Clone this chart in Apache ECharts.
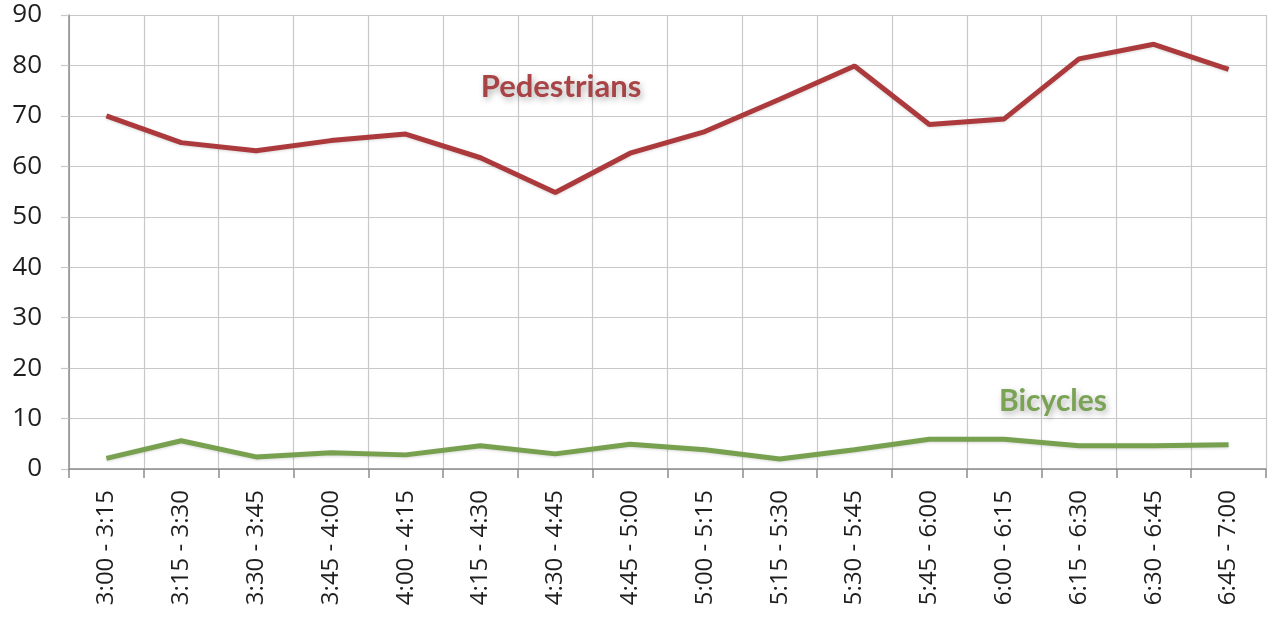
<!DOCTYPE html>
<html>
<head>
<meta charset="utf-8">
<script src="https://cdn.jsdelivr.net/npm/echarts@6/dist/echarts.min.js"></script>
<style>html,body{margin:0;padding:0;background:#fff;}#chart{width:1268px;height:619px;}</style>
</head>
<body>
<div id="chart"></div>
<script>
const categories = ['3:00 - 3:15','3:15 - 3:30','3:30 - 3:45','3:45 - 4:00','4:00 - 4:15','4:15 - 4:30','4:30 - 4:45','4:45 - 5:00','5:00 - 5:15','5:15 - 5:30','5:30 - 5:45','5:45 - 6:00','6:00 - 6:15','6:15 - 6:30','6:30 - 6:45','6:45 - 7:00'];
const pedestrians = [70.0, 64.7, 63.1, 65.1, 66.4, 61.7, 54.8, 62.6, 66.9, 73.3, 79.9, 68.3, 69.4, 81.3, 84.2, 79.2];
const bicycles = [2.1, 5.6, 2.4, 3.2, 2.8, 4.6, 3.0, 4.9, 3.8, 2.0, 3.8, 5.9, 5.9, 4.6, 4.6, 4.8];
const yTicks = {min: 0, max: 90, interval: 10};
const seriesNames = ['Pedestrians', 'Bicycles'];

const chart = echarts.init(document.getElementById('chart'));
const AXFONT = 'Open Sans';
const LBFONT = 'Lato';
chart.setOption({
  animation: false,
  backgroundColor: '#ffffff',
  grid: {left: 69, right: 2, top: 15, bottom: 150, containLabel: false},
  xAxis: {
    type: 'category',
    data: categories,
    boundaryGap: true,
    axisLine: {show: true, lineStyle: {color: '#8c8c8c', width: 1.5}},
    axisTick: {show: true, interval: 0, length: 9, lineStyle: {color: '#8c8c8c', width: 1.5}},
    splitLine: {show: true, interval: 0, lineStyle: {color: '#c8c8c8', width: 1.2}},
    axisLabel: {rotate: 90, interval: 0, margin: 21, fontFamily: AXFONT, fontSize: 24, color: '#1e1e1e'}
  },
  yAxis: {
    type: 'value',
    min: yTicks.min, max: yTicks.max, interval: yTicks.interval,
    axisLine: {show: true, lineStyle: {color: '#8c8c8c', width: 1.5}},
    axisTick: {show: true, length: 8, lineStyle: {color: '#c8c8c8', width: 1.2}},
    splitLine: {show: true, lineStyle: {color: '#c8c8c8', width: 1.2}},
    axisLabel: {margin: 27, fontFamily: AXFONT, fontSize: 26, color: '#1e1e1e'}
  },
  series: [
    {name: seriesNames[0], type: 'line', data: pedestrians, symbol: 'none',
     lineStyle: {color: '#ac3a3d', width: 5, shadowColor: 'rgba(0,0,0,0.15)', shadowBlur: 3, shadowOffsetY: 1}},
    {name: seriesNames[1], type: 'line', data: bicycles, symbol: 'none',
     lineStyle: {color: '#77a04f', width: 5, shadowColor: 'rgba(0,0,0,0.15)', shadowBlur: 3, shadowOffsetY: 1}}
  ],
  graphic: [
    {type: 'text', x: 561, y: 87, z: 10, style: {text: seriesNames[0], fontFamily: LBFONT, fontWeight: 'bold', fontSize: 31,
      fill: '#a84346', align: 'center', verticalAlign: 'middle',
      textShadowColor: 'rgba(0,0,0,0.3)', textShadowBlur: 6, textShadowOffsetX: 2, textShadowOffsetY: 3}},
    {type: 'text', x: 1053, y: 401, z: 10, style: {text: seriesNames[1], fontFamily: LBFONT, fontWeight: 'bold', fontSize: 30,
      fill: '#7aa356', align: 'center', verticalAlign: 'middle',
      textShadowColor: 'rgba(0,0,0,0.3)', textShadowBlur: 6, textShadowOffsetX: 2, textShadowOffsetY: 3}}
  ]
});
</script>
</body>
</html>
